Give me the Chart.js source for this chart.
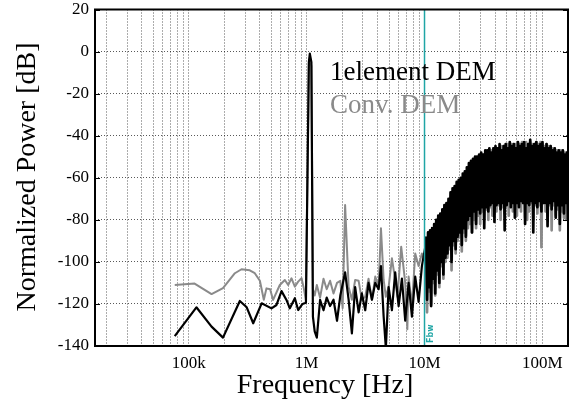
<!DOCTYPE html>
<html>
<head>
<meta charset="utf-8">
<script src="https://cdn.jsdelivr.net/npm/chart.js@4.4.1/dist/chart.umd.min.js"></script>
<style>
  html, body { margin: 0; padding: 0; background: #fff; }
  #chart { display: block; }
</style>
</head>
<body>
<canvas id="chart" width="579" height="407"></canvas>
<script>
// DEM output spectrum: 1element DEM vs conventional DEM

// x axis labels (decades only, minor grid in between)
const tickValues = [1e5, 1e6, 1e7, 1e8];
const tickLabels = ["100k", "1M", "10M", "100M"];
const xMin = 16e3;
const xMax = 165e6;
const fbw = 10e6;

// below 10 MHz (Hz / dB)
const blackFreq = [76e3, 116e3, 156e3, 195e3, 271e3, 310e3, 352e3, 415e3, 503e3, 555e3,
  612e3, 674e3, 720e3, 794e3, 847e3, 922e3, 986e3, 1.044e6, 1.064e6, 1.097e6,
  1.13e6, 1.17e6, 1.22e6, 1.30e6, 1.39e6, 1.48e6, 1.58e6, 1.69e6, 1.81e6, 1.93e6,
  2.12e6, 2.27e6, 2.42e6, 2.58e6, 2.76e6, 2.94e6, 3.14e6, 3.35e6, 3.58e6, 3.82e6,
  4.08e6, 4.27e6, 4.50e6, 4.70e6, 4.96e6, 5.29e6, 5.64e6, 6.03e6, 6.43e6, 6.86e6,
  7.33e6, 7.82e6, 8.34e6, 8.91e6, 9.50e6, 10.14e6];
const blackDb = [-135.3, -121.6, -130.8, -136, -118.6, -121.6, -129.2, -119.7, -122.1, -120.5,
  -113.9, -118.1, -122.1, -117.3, -122.9, -120, -119.4, -5, -1, -5,
  -126, -133, -136, -118, -123, -117, -121, -118, -128, -116,
  -105, -118, -134, -112, -124, -115, -123, -110, -118, -110,
  -113, -102, -126, -141, -112, -123, -105, -121, -108, -128,
  -110, -126, -107, -119, -102, -93];

const grayFreq = [76e3, 112e3, 156e3, 195e3, 246e3, 280e3, 329e3, 363e3, 401e3, 433e3,
  456e3, 490e3, 519e3, 592e3, 653e3, 697e3, 744e3, 794e3, 847e3, 905e3,
  946e3, 985e3, 1.044e6, 1.064e6, 1.097e6,
  1.13e6, 1.17e6, 1.22e6, 1.30e6, 1.39e6, 1.48e6, 1.58e6, 1.69e6, 1.81e6, 1.93e6,
  2.02e6, 2.12e6, 2.27e6, 2.42e6, 2.58e6, 2.76e6, 2.94e6, 3.14e6, 3.35e6, 3.58e6,
  3.82e6, 4.08e6, 4.27e6, 4.50e6, 4.70e6, 4.96e6, 5.29e6, 5.64e6, 5.90e6, 6.34e6,
  6.86e6, 7.15e6, 7.33e6, 7.82e6, 8.34e6, 8.91e6, 9.50e6, 10.14e6];
const grayDb = [-111, -110.3, -115.3, -112.5, -105.4, -103.5, -104, -105.4, -109, -118,
  -112.6, -113, -118.1, -111, -108.6, -111, -107.8, -111.8, -109.4, -107.8,
  -112.6, -118, -6, -3, -7,
  -113, -116, -111, -117, -108, -113, -109, -115, -110, -109,
  -122, -73, -112, -118, -108.6, -109, -118, -116.6, -108, -118,
  -107, -112, -84, -108.6, -116.6, -112, -98.3, -108.6, -116.6, -92.8,
  -110, -132, -107, -121, -96, -102, -96, -100];

// above 10 MHz: one value per analyzer bin (log spaced bins)
const bandStart = 10.3e6;
const bandEnd = 165e6;
const blackBandDb = [
  -88, -118, -86, -112, -85, -121, -84, -108, -82, -115,
  -80, -104, -78, -110, -77, -100, -75, -106, -73, -98,
  -72, -96, -70, -92, -67, -100, -65, -90, -64, -94,
  -62, -88, -61, -86, -60, -92, -58, -84, -57, -88,
  -55, -80, -53, -78, -52, -86, -51, -76, -50, -82,
  -50, -75, -49, -77, -48, -74, -49, -84, -47, -74,
  -47, -76, -46, -73, -48, -72, -46, -81, -45, -73,
  -46, -72, -44, -75, -47, -72, -45, -85, -44, -73,
  -46, -71, -43, -74, -45, -72, -44, -79, -46, -72,
  -43, -74, -45, -71, -44, -72, -43, -82, -46, -72,
  -44, -73, -42, -71, -45, -86, -44, -72, -43, -74,
  -45, -71, -44, -76, -43, -72, -46, -72, -44, -83,
  -46, -72, -45, -75, -47, -71, -46, -79, -48, -73,
  -47, -82, -48, -73, -47, -77, -49, -72, -48, -80];
const grayBandDb = [
  -90, -124, -88, -114, -87, -120, -86, -110, -84, -116,
  -82, -106, -80, -112, -79, -102, -77, -108, -75, -100,
  -74, -98, -72, -94, -70, -104, -68, -92, -66, -96,
  -64, -90, -63, -88, -61, -95, -60, -86, -58, -90,
  -58, -84, -56, -82, -54, -86, -53, -80, -52, -84,
  -51, -78, -50, -82, -49, -76, -49, -80, -48, -75,
  -48, -80, -47, -74, -47, -78, -46, -73, -46, -76,
  -46, -73, -46, -80, -45, -74, -45, -77, -45, -73,
  -44, -78, -45, -73, -44, -76, -44, -72, -44, -78,
  -44, -73, -44, -76, -43, -72, -44, -79, -43, -80,
  -44, -76, -43, -72, -44, -80, -44, -73, -43, -77,
  -44, -73, -43, -93, -44, -72, -45, -76, -44, -80,
  -45, -73, -45, -85, -46, -73, -46, -78, -47, -75,
  -47, -85, -47, -76, -48, -79, -48, -80, -48, -77];

const teal = "#1fa5a5";
const gray = "#8a8a8a";
const serif = "Liberation Serif";

// bin frequencies for the band part
function bandFreq(n) {
  const out = [];
  for (let i = 0; i < n; i++) {
    out.push(bandStart * Math.pow(bandEnd / bandStart, i / (n - 1)));
  }
  return out;
}

function toPoints(freqs, dbs, bandDbs) {
  const pts = freqs.map((f, i) => ({ x: f, y: dbs[i] }));
  const bf = bandFreq(bandDbs.length);
  bandDbs.forEach((v, i) => pts.push({ x: bf[i], y: v }));
  return pts;
}

// thicker strokes in the dense band so it reads as solid
const bandWidth = (c) => (c.p0.parsed.x >= bandStart ? 2.7 : undefined);

// grid at 1..9 x 10^n
const gridValues = [];
for (let d = 4; d <= 8; d++) {
  for (let m = 1; m <= 9; m++) {
    const v = m * Math.pow(10, d);
    if (v >= xMin && v <= xMax) gridValues.push(v);
  }
}

// frame, inward ticks, legend text, titles
const decorations = {
  id: "decorations",
  afterDraw(chart) {
    const ctx = chart.ctx;
    const { left, right, top, bottom } = chart.chartArea;
    const xs = chart.scales.x;
    const ys = chart.scales.y;
    ctx.save();

    ctx.strokeStyle = "#000";
    ctx.lineWidth = 2;
    ctx.strokeRect(left, top, right - left, bottom - top);

    ctx.lineWidth = 1;
    ys.ticks.forEach((t) => {
      const py = Math.round(ys.getPixelForValue(t.value)) + 0.5;
      ctx.beginPath();
      ctx.moveTo(left, py);
      ctx.lineTo(left + 5, py);
      ctx.moveTo(right, py);
      ctx.lineTo(right - 5, py);
      ctx.stroke();
    });

    ctx.textAlign = "left";
    ctx.textBaseline = "alphabetic";
    ctx.font = "27px '" + serif + "'";
    ctx.fillStyle = "#000";
    ctx.fillText("1element DEM", 330, 80);
    ctx.fillStyle = gray;
    ctx.fillText("Conv. DEM", 330, 113);

    ctx.fillStyle = "#000";
    ctx.font = "28px '" + serif + "'";
    ctx.textAlign = "center";
    ctx.fillText("Frequency [Hz]", 325, 393);
    ctx.save();
    ctx.translate(35, 177);
    ctx.rotate(-Math.PI / 2);
    ctx.fillText("Normalized Power [dB]", 0, 0);
    ctx.restore();

    const fx = xs.getPixelForValue(fbw);
    ctx.save();
    ctx.translate(fx + 8.5, bottom - 3);
    ctx.rotate(-Math.PI / 2);
    ctx.textAlign = "left";
    ctx.fillStyle = teal;
    ctx.font = "bold 8px 'DejaVu Sans'";
    ctx.fillText("Fbw", 0, 0);
    ctx.restore();

    ctx.restore();
  },
};

new Chart(document.getElementById("chart"), {
  type: "line",
  data: {
    datasets: [
      {
        label: "Fbw",
        data: [{ x: fbw, y: 20 }, { x: fbw, y: -140 }],
        borderColor: teal,
        borderWidth: 1.5,
        pointRadius: 0,
      },
      {
        label: "1element DEM",
        data: toPoints(blackFreq, blackDb, blackBandDb),
        borderColor: "#000",
        borderWidth: 2.2,
        borderJoinStyle: "round",
        pointRadius: 0,
        tension: 0,
        segment: { borderWidth: bandWidth },
      },
      {
        label: "Conv. DEM",
        data: toPoints(grayFreq, grayDb, grayBandDb),
        borderColor: gray,
        borderWidth: 2,
        borderJoinStyle: "round",
        pointRadius: 0,
        tension: 0,
        segment: { borderWidth: bandWidth },
      },
    ],
  },
  options: {
    responsive: false,
    animation: false,
    devicePixelRatio: 1,
    layout: { padding: { top: 0, right: 11, left: 0, bottom: 0 } },
    plugins: {
      legend: { display: false },
      tooltip: { enabled: false },
    },
    scales: {
      x: {
        type: "logarithmic",
        min: xMin,
        max: xMax,
        afterBuildTicks: (scale) => {
          scale.ticks = gridValues.map((v) => ({ value: v }));
        },
        afterFit: (scale) => {
          scale.height = 61;
        },
        grid: { color: "rgba(0,0,0,0.65)", lineWidth: 1, drawTicks: false },
        border: { display: false, dash: [1, 2] },
        ticks: {
          autoSkip: false,
          maxRotation: 0,
          padding: 7,
          color: "#000",
          font: { family: serif, size: 17 },
          callback: (value) => {
            const k = tickValues.indexOf(value);
            return k >= 0 ? tickLabels[k] : "";
          },
        },
      },
      y: {
        min: -140,
        max: 20,
        afterFit: (scale) => {
          scale.width = 95;
          scale.paddingTop = 9.5;
        },
        grid: { color: "rgba(0,0,0,0.65)", lineWidth: 1, drawTicks: false },
        border: { display: false, dash: [1, 2] },
        ticks: {
          stepSize: 20,
          padding: 6,
          color: "#000",
          font: { family: serif, size: 17 },
          callback: (value) => String(value),
        },
      },
    },
  },
  plugins: [decorations],
});
</script>
</body>
</html>
